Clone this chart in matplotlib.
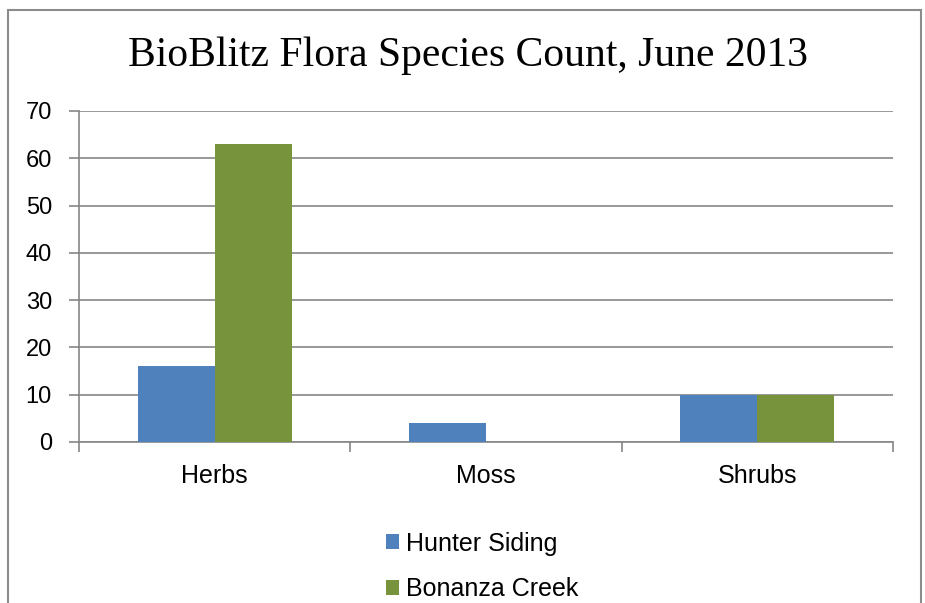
import matplotlib.pyplot as plt
import numpy as np
from matplotlib.patches import Rectangle

categories = ["Herbs", "Moss", "Shrubs"]
hunter_siding = [16, 4, 10]
bonanza_creek = [63, 0, 10]
series_names = ["Hunter Siding", "Bonanza Creek"]
y_ticks = [0, 10, 20, 30, 40, 50, 60, 70]

blue = "#4F81BD"
green = "#77933C"
grid_grey = "#868686"

fig = plt.figure(figsize=(9.25, 6.03), dpi=100)
ax = fig.add_axes([79 / 925, 1 - 442 / 603, 814 / 925, 331 / 603])

# outer chart border (bottom runs off the image)
fig.patches.append(Rectangle((8 / 925, -0.05), 913 / 925, 1.05 - 10 / 603,
                             transform=fig.transFigure, fill=False,
                             edgecolor="#8c8c8c", lw=1.5))

x = np.arange(len(categories))
w = 0.284
ax.bar(x - w / 2, hunter_siding, w, color=blue, label=series_names[0], zorder=3)
ax.bar(x + w / 2, bonanza_creek, w, color=green, label=series_names[1], zorder=3)

ax.set_xlim(-0.5, 2.5)
ax.set_ylim(0, 70)
ax.set_yticks(y_ticks)
ax.set_yticklabels(y_ticks, fontsize=17, family="Liberation Sans")
ax.set_xticks(x)
ax.set_xticklabels(categories, fontsize=18, family="Liberation Sans")
ax.tick_params(axis="x", length=0, pad=16)
ax.tick_params(axis="y", length=7, width=1.2, color=grid_grey, pad=12.5)

# category boundary ticks on x axis
ax.set_xticks([-0.5, 0.5, 1.5, 2.5], minor=True)
ax.tick_params(axis="x", which="minor", length=7, width=1.2, color=grid_grey)

ax.grid(axis="y", color=grid_grey, lw=1.2, zorder=0)
for s in ["top", "right"]:
    ax.spines[s].set_visible(False)
ax.spines["left"].set_color(grid_grey)
ax.spines["bottom"].set_color(grid_grey)
ax.spines["left"].set_linewidth(1.2)
ax.spines["bottom"].set_linewidth(1.2)

fig.text(468 / 925, 1 - 56 / 603, "BioBlitz Flora Species Count, June 2013",
         ha="center", va="center", fontsize=30, family="Liberation Serif")

fig.legend(loc="upper left", bbox_to_anchor=(368 / 925, 1 - 514 / 603),
           frameon=False, prop={"family": "Liberation Sans", "size": 18},
           handlelength=0.55, handleheight=0.55, handletextpad=0.25,
           labelspacing=0.87, borderpad=0.2)

fig.savefig("out.png", dpi=100)
